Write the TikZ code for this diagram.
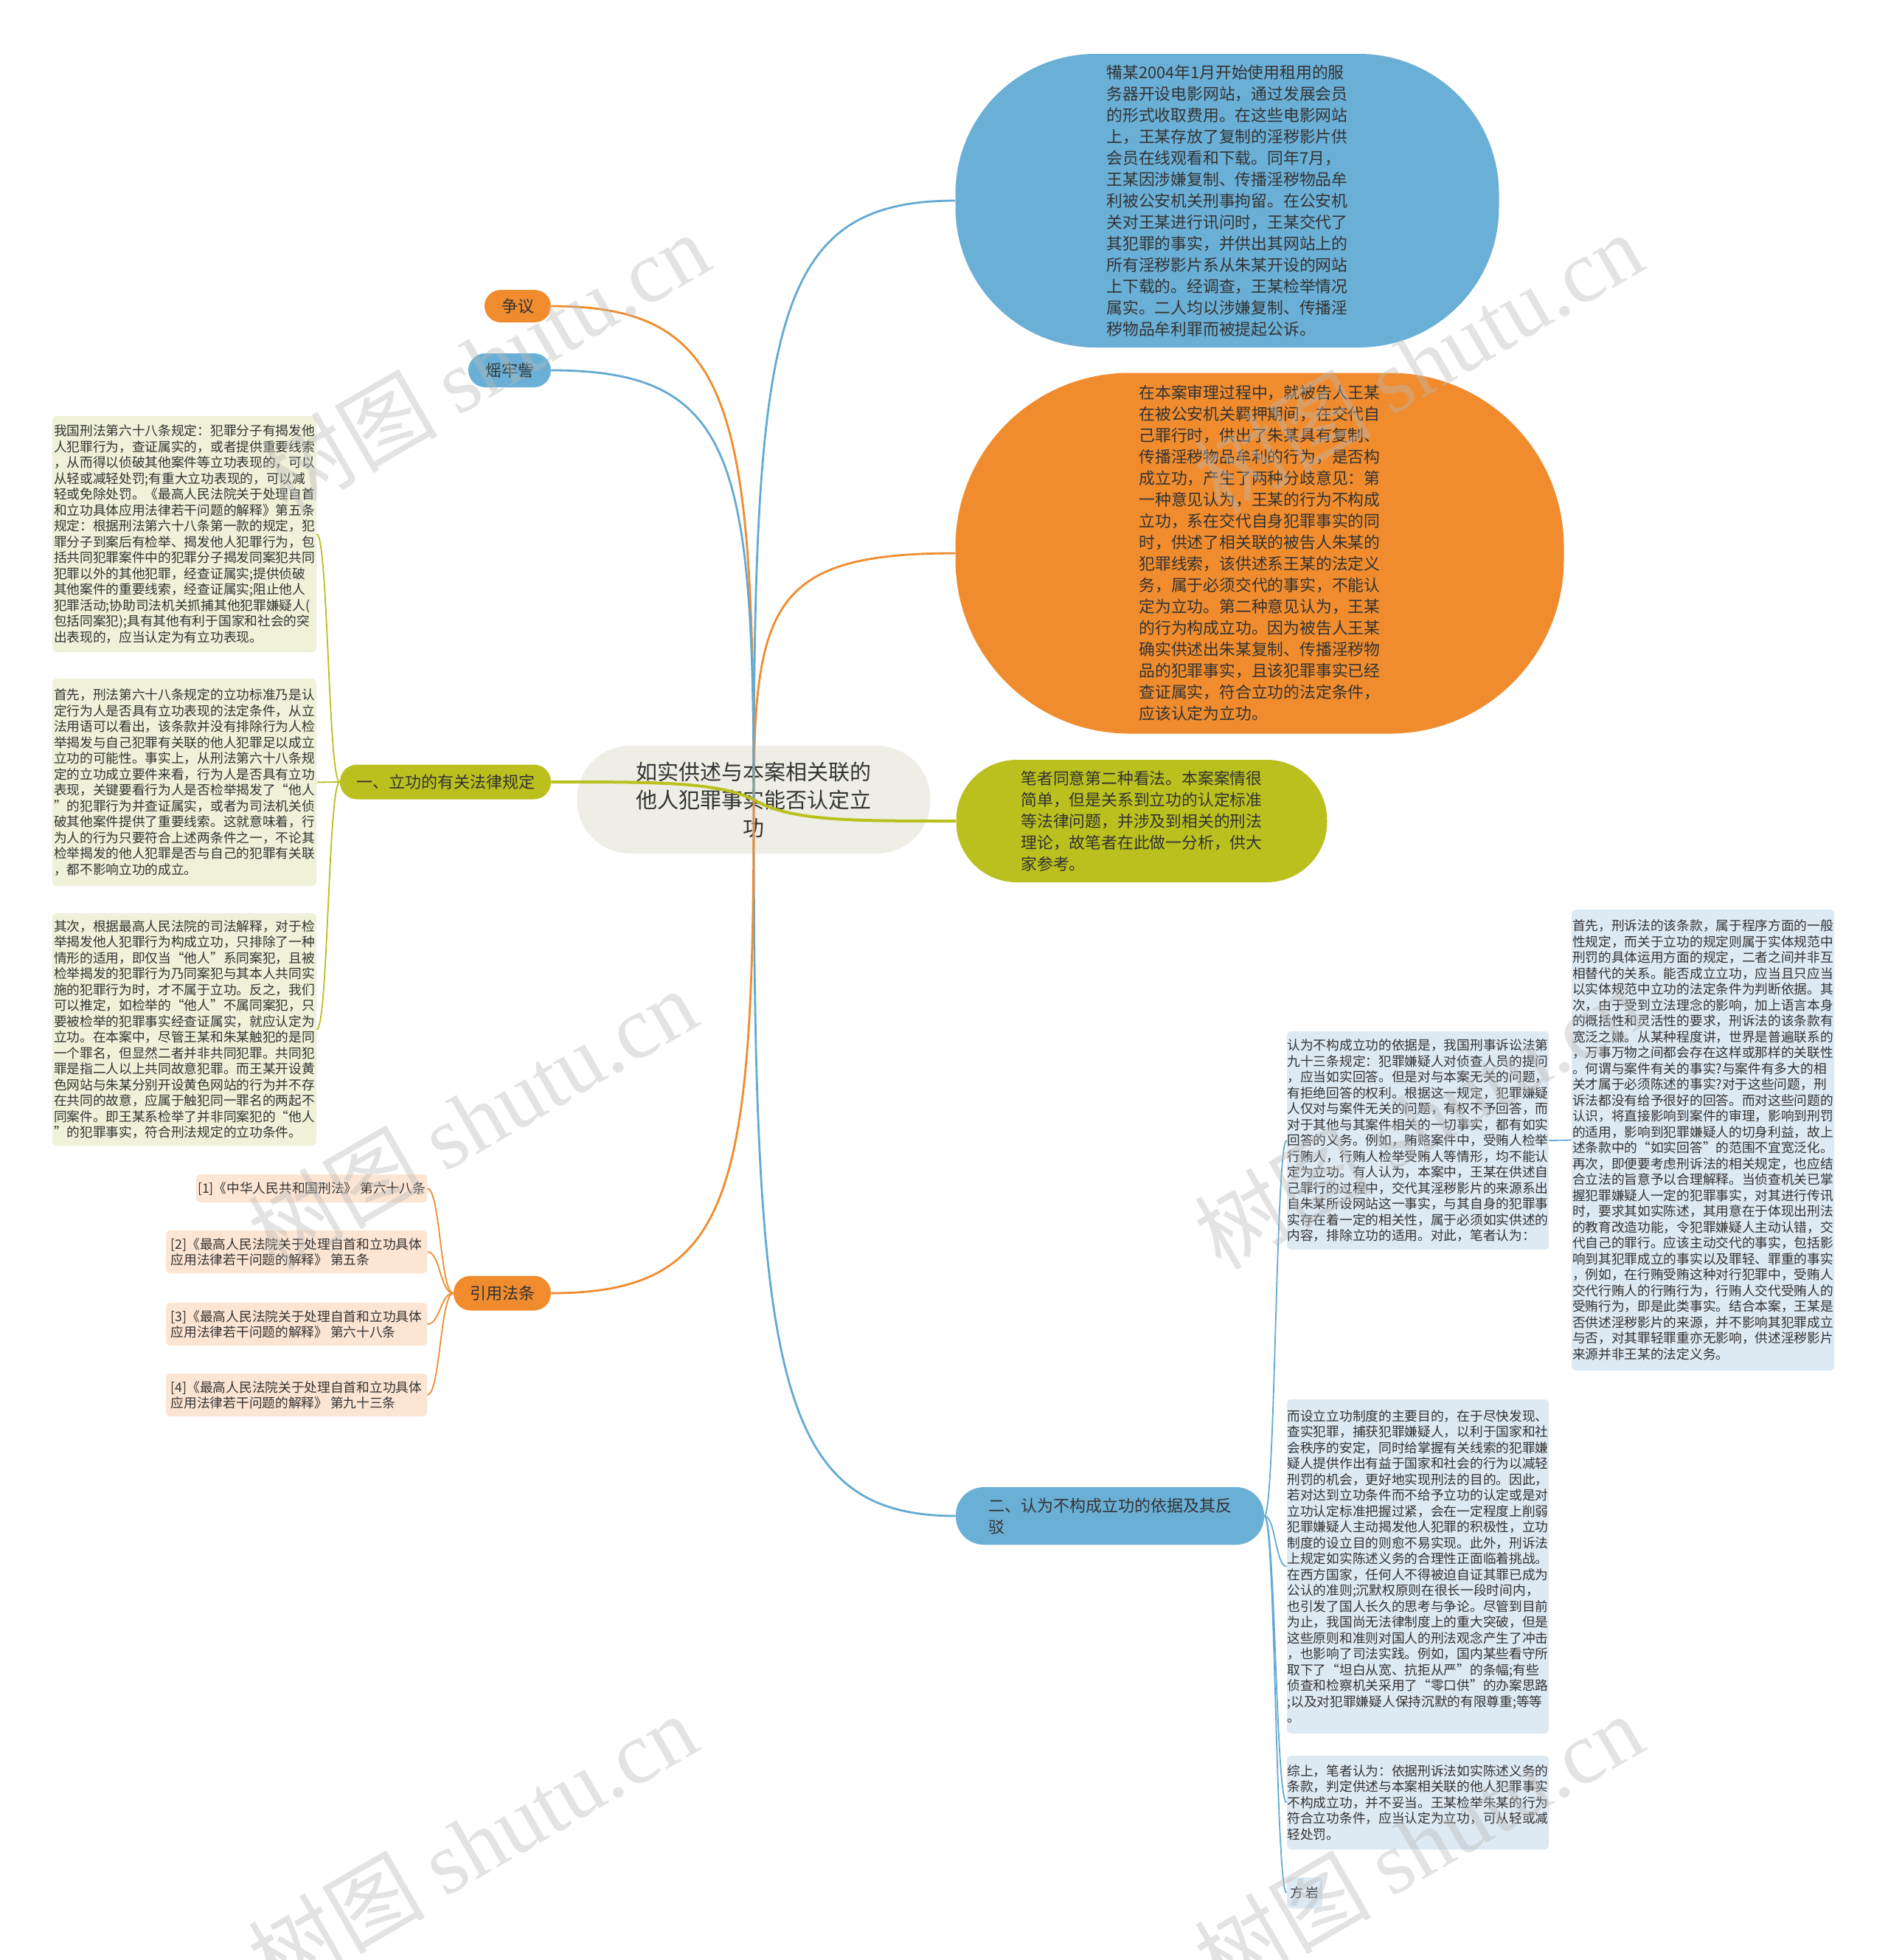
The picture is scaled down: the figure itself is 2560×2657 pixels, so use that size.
\documentclass[tikz,border=0pt]{standalone}
\usepackage{fontspec}
\setmainfont{Noto Sans CJK SC}
\newfontfamily\wmlat{Liberation Serif}
\usetikzlibrary{calc}
\definecolor{cblue}{HTML}{6AAFD6}
\definecolor{corange}{HTML}{F08C2E}
\definecolor{cgreen}{HTML}{BAC01E}
\definecolor{croot}{HTML}{EEEEE6}
\definecolor{lgreen}{HTML}{EFF1D9}
\definecolor{lblue}{HTML}{DDEAF4}
\definecolor{lpeach}{HTML}{FCE5D3}
\definecolor{ctext}{HTML}{333333}
\definecolor{lineblue}{HTML}{63AAD3}
\begin{document}
\begin{tikzpicture}[x=0.5pt,y=-0.5pt,
  bubble/.style={rectangle, inner sep=0pt, align=left, text=ctext, font=\fontsize{10.9pt}{14.5pt}\selectfont},
  leaf/.style={rectangle, rounded corners=3pt, inner sep=0pt, align=left, text=ctext, font=\fontsize{8.85pt}{10.75pt}\selectfont},
  pill/.style={rectangle, inner sep=0pt, align=left, text=ctext, font=\fontsize{11pt}{14.5pt}\selectfont},
  wm/.style={text=gray!55, text opacity=0.4, font=\fontsize{60pt}{60pt}\selectfont, rotate=30, inner sep=0pt},
  mm/.style={to path={.. controls ($(\tikztostart)!0.8!(\tikztostart|-\tikztotarget)$) and ($(\tikztotarget)!0.9!(\tikztotarget-|\tikztostart)$) .. (\tikztotarget)}},
  sc/.style={to path={.. controls ($(\tikztostart|-\tikztotarget)!0.18!(\tikztotarget)$) and ($(\tikztostart|-\tikztotarget)!0.47!(\tikztotarget)$) .. (\tikztotarget)}},
  br/.style={to path={.. controls ($(\tikztostart)!0.5!(\tikztostart-|\tikztotarget)$) and ($(\tikztotarget)!0.5!(\tikztotarget-|\tikztostart)$) .. (\tikztotarget)}},
  lb/.style={draw=lineblue, line width=1.4pt},
  lo/.style={draw=corange, line width=1.4pt},
  lg/.style={draw=cgreen, line width=2pt},
  tb/.style={draw=lineblue, line width=0.9pt},
  to/.style={draw=corange, line width=0.9pt},
  tg/.style={draw=cgreen, line width=0.9pt}
]
\useasboundingbox (0,0) rectangle (2560,2657);
\fill[white] (0,0) rectangle (2560,2657);

% root
\node[rectangle, fill=croot, rounded corners=36pt, minimum width=239.5pt, minimum height=73pt, inner sep=0pt, align=center, text=ctext, font=\fontsize{14.5pt}{19pt}\selectfont] (root) at (1022,1084) {如实供述与本案相关联的\\他人犯罪事实能否认定立\\功};

% right main bubbles
\node[bubble, fill=cblue, minimum width=368.5pt, minimum height=199pt, rounded corners=95pt] (case) at (1664,272) {犕某2004年1月开始使用租用的服\\务器开设电影网站，通过发展会员\\的形式收取费用。在这些电影网站\\上，王某存放了复制的淫秽影片供\\会员在线观看和下载。同年7月，\\王某因涉嫌复制、传播淫秽物品牟\\利被公安机关刑事拘留。在公安机\\关对王某进行讯问时，王某交代了\\其犯罪的事实，并供出其网站上的\\所有淫秽影片系从朱某开设的网站\\上下载的。经调查，王某检举情况\\属实。二人均以涉嫌复制、传播淫\\秽物品牟利罪而被提起公诉。};

\node[bubble, fill=corange, minimum width=412.5pt, minimum height=244.5pt, rounded corners=118pt] (disp) at (1708,750) {在本案审理过程中，就被告人王某\\在被公安机关羁押期间，在交代自\\己罪行时，供出了朱某具有复制、\\传播淫秽物品牟利的行为，是否构\\成立功，产生了两种分歧意见：第\\一种意见认为，王某的行为不构成\\立功，系在交代自身犯罪事实的同\\时，供述了相关联的被告人朱某的\\犯罪线索，该供述系王某的法定义\\务，属于必须交代的事实，不能认\\定为立功。第二种意见认为，王某\\的行为构成立功。因为被告人王某\\确实供述出朱某复制、传播淫秽物\\品的犯罪事实，且该犯罪事实已经\\查证属实，符合立功的法定条件，\\应该认定为立功。};

\node[bubble, fill=cgreen, minimum width=251.5pt, minimum height=83pt, rounded corners=41pt] (opin) at (1548,1113) {笔者同意第二种看法。本案案情很\\简单，但是关系到立功的认定标准\\等法律问题，并涉及到相关的刑法\\理论，故笔者在此做一分析，供大\\家参考。};

\node[pill, fill=cblue, minimum width=209pt, minimum height=39pt, rounded corners=19pt] (two) at (1505,2055) {二、认为不构成立功的依据及其反\\驳};

% left pills
\node[pill, fill=corange, minimum width=45pt, minimum height=22pt, rounded corners=11pt] (zy) at (702,415) {争议};
\node[pill, fill=cblue, minimum width=56pt, minimum height=23pt, rounded corners=11.5pt] (ln) at (691,502) {熎牢訾};
\node[pill, fill=cgreen, minimum width=143pt, minimum height=23.5pt, rounded corners=11.5pt] (one) at (604,1060) {一、立功的有关法律规定};
\node[pill, fill=corange, minimum width=66pt, minimum height=23.5pt, rounded corners=11.5pt] (yf) at (681,1753) {引用法条};

% left leaves
\node[leaf, fill=lgreen, minimum width=179pt, minimum height=160pt] (l1) at (250,724) {我国刑法第六十八条规定：犯罪分子有揭发他\\人犯罪行为，查证属实的，或者提供重要线索\\，从而得以侦破其他案件等立功表现的，可以\\从轻或减轻处罚;有重大立功表现的，可以减\\轻或免除处罚。《最高人民法院关于处理自首\\和立功具体应用法律若干问题的解释》第五条\\规定：根据刑法第六十八条第一款的规定，犯\\罪分子到案后有检举、揭发他人犯罪行为，包\\括共同犯罪案件中的犯罪分子揭发同案犯共同\\犯罪以外的其他犯罪，经查证属实;提供侦破\\其他案件的重要线索，经查证属实;阻止他人\\犯罪活动;协助司法机关抓捕其他犯罪嫌疑人(\\包括同案犯);具有其他有利于国家和社会的突\\出表现的，应当认定为有立功表现。};

\node[leaf, fill=lgreen, minimum width=179pt, minimum height=140.5pt] (l2) at (250,1060.5) {首先，刑法第六十八条规定的立功标准乃是认\\定行为人是否具有立功表现的法定条件，从立\\法用语可以看出，该条款并没有排除行为人检\\举揭发与自己犯罪有关联的他人犯罪足以成立\\立功的可能性。事实上，从刑法第六十八条规\\定的立功成立要件来看，行为人是否具有立功\\表现，关键要看行为人是否检举揭发了“他人\\”的犯罪行为并查证属实，或者为司法机关侦\\破其他案件提供了重要线索。这就意味着，行\\为人的行为只要符合上述两条件之一，不论其\\检举揭发的他人犯罪是否与自己的犯罪有关联\\，都不影响立功的成立。};

\node[leaf, fill=lgreen, minimum width=179pt, minimum height=157.5pt] (l3) at (250,1395.5) {其次，根据最高人民法院的司法解释，对于检\\举揭发他人犯罪行为构成立功，只排除了一种\\情形的适用，即仅当“他人”系同案犯，且被\\检举揭发的犯罪行为乃同案犯与其本人共同实\\施的犯罪行为时，才不属于立功。反之，我们\\可以推定，如检举的“他人”不属同案犯，只\\要被检举的犯罪事实经查证属实，就应认定为\\立功。在本案中，尽管王某和朱某触犯的是同\\一个罪名，但显然二者并非共同犯罪。共同犯\\罪是指二人以上共同故意犯罪。而王某开设黄\\色网站与朱某分别开设黄色网站的行为并不存\\在共同的故意，应属于触犯同一罪名的两起不\\同案件。即王某系检举了并非同案犯的“他人\\”的犯罪事实，符合刑法规定的立功条件。};

% references
\node[leaf, fill=lpeach, minimum width=156.5pt, minimum height=19pt] (f1) at (422.5,1611) {[1]《中华人民共和国刑法》 第六十八条};
\node[leaf, fill=lpeach, minimum width=177pt, minimum height=29pt] (f2) at (402,1697) {[2]《最高人民法院关于处理自首和立功具体\\应用法律若干问题的解释》 第五条};
\node[leaf, fill=lpeach, minimum width=177pt, minimum height=29pt] (f3) at (402,1795) {[3]《最高人民法院关于处理自首和立功具体\\应用法律若干问题的解释》 第六十八条};
\node[leaf, fill=lpeach, minimum width=177pt, minimum height=29pt] (f4) at (402,1891) {[4]《最高人民法院关于处理自首和立功具体\\应用法律若干问题的解释》 第九十三条};

% right leaves
\node[leaf, fill=lblue, minimum width=177.5pt, minimum height=148pt] (r1) at (1922.5,1546) {认为不构成立功的依据是，我国刑事诉讼法第\\九十三条规定：犯罪嫌疑人对侦查人员的提问\\，应当如实回答。但是对与本案无关的问题，\\有拒绝回答的权利。根据这一规定，犯罪嫌疑\\人仅对与案件无关的问题，有权不予回答，而\\对于其他与其案件相关的一切事实，都有如实\\回答的义务。例如，贿赂案件中，受贿人检举\\行贿人，行贿人检举受贿人等情形，均不能认\\定为立功。有人认为，本案中，王某在供述自\\己罪行的过程中，交代其淫秽影片的来源系出\\自朱某所设网站这一事实，与其自身的犯罪事\\实存在着一定的相关性，属于必须如实供述的\\内容，排除立功的适用。对此，笔者认为：};

\node[leaf, fill=lblue, minimum width=178pt, minimum height=312.5pt] (r2) at (2309,1545.5) {首先，刑诉法的该条款，属于程序方面的一般\\性规定，而关于立功的规定则属于实体规范中\\刑罚的具体运用方面的规定，二者之间并非互\\相替代的关系。能否成立立功，应当且只应当\\以实体规范中立功的法定条件为判断依据。其\\次，由于受到立法理念的影响，加上语言本身\\的概括性和灵活性的要求，刑诉法的该条款有\\宽泛之嫌。从某种程度讲，世界是普遍联系的\\，万事万物之间都会存在这样或那样的关联性\\。何谓与案件有关的事实?与案件有多大的相\\关才属于必须陈述的事实?对于这些问题，刑\\诉法都没有给予很好的回答。而对这些问题的\\认识，将直接影响到案件的审理，影响到刑罚\\的适用，影响到犯罪嫌疑人的切身利益，故上\\述条款中的“如实回答”的范围不宜宽泛化。\\再次，即便要考虑刑诉法的相关规定，也应结\\合立法的旨意予以合理解释。当侦查机关已掌\\握犯罪嫌疑人一定的犯罪事实，对其进行传讯\\时，要求其如实陈述，其用意在于体现出刑法\\的教育改造功能，令犯罪嫌疑人主动认错，交\\代自己的罪行。应该主动交代的事实，包括影\\响到其犯罪成立的事实以及罪轻、罪重的事实\\，例如，在行贿受贿这种对行犯罪中，受贿人\\交代行贿人的行贿行为，行贿人交代受贿人的\\受贿行为，即是此类事实。结合本案，王某是\\否供述淫秽影片的来源，并不影响其犯罪成立\\与否，对其罪轻罪重亦无影响，供述淫秽影片\\来源并非王某的法定义务。};

\node[leaf, fill=lblue, minimum width=177.5pt, minimum height=226.5pt] (r3) at (1922.5,2123.5) {而设立立功制度的主要目的，在于尽快发现、\\查实犯罪，捕获犯罪嫌疑人，以利于国家和社\\会秩序的安定，同时给掌握有关线索的犯罪嫌\\疑人提供作出有益于国家和社会的行为以减轻\\刑罚的机会，更好地实现刑法的目的。因此，\\若对达到立功条件而不给予立功的认定或是对\\立功认定标准把握过紧，会在一定程度上削弱\\犯罪嫌疑人主动揭发他人犯罪的积极性，立功\\制度的设立目的则愈不易实现。此外，刑诉法\\上规定如实陈述义务的合理性正面临着挑战。\\在西方国家，任何人不得被迫自证其罪已成为\\公认的准则;沉默权原则在很长一段时间内，\\也引发了国人长久的思考与争论。尽管到目前\\为止，我国尚无法律制度上的重大突破，但是\\这些原则和准则对国人的刑法观念产生了冲击\\，也影响了司法实践。例如，国内某些看守所\\取下了“坦白从宽、抗拒从严”的条幅;有些\\侦查和检察机关采用了“零口供”的办案思路\\;以及对犯罪嫌疑人保持沉默的有限尊重;等等\\。};

\node[leaf, fill=lblue, minimum width=177.5pt, minimum height=63.5pt] (r4) at (1922.5,2443.5) {综上，笔者认为：依据刑诉法如实陈述义务的\\条款，判定供述与本案相关联的他人犯罪事实\\不构成立功，并不妥当。王某检举朱某的行为\\符合立功条件，应当认定为立功，可从轻或减\\轻处罚。};

\node[leaf, fill=lblue, minimum width=24pt, minimum height=21pt] (r5) at (1769,2566) {方 岩};

% main connectors
\draw[lb] (root.center) to[mm] (case.west);
\draw[lo] (root.center) to[mm] (disp.west);
\draw[lg] (root.center) to[sc] (opin.west);
\draw[lb] (root.center) to[mm] (two.west);
\draw[lo] (root.center) to[mm] (zy.east);
\draw[lb] (root.center) to[mm] (ln.east);
\draw[lg] (root.center) to[sc] (one.east);
\draw[lo] (root.center) to[mm] (yf.east);

% branch connectors
\draw[tg] (one.west) to[br] (l1.east);
\draw[tg] (one.west) to[br] (l2.east);
\draw[tg] (one.west) to[br] (l3.east);
\draw[to] (yf.west) to[br] (f1.east);
\draw[to] (yf.west) to[br] (f2.east);
\draw[to] (yf.west) to[br] (f3.east);
\draw[to] (yf.west) to[br] (f4.east);
\draw[tb] (two.east) to[br] (r1.west);
\draw[tb] (two.east) to[br] (r3.west);
\draw[tb] (two.east) to[br] (r4.west);
\draw[tb] (two.east) to[br] (r5.west);
\draw[tb] (r1.east) -- (r2.west);

% watermarks
\node[wm] (wm1) at (657,491) {树图 {\wmlat shutu.cn}};
\node[wm] (wm2) at (640,1516) {树图 {\wmlat shutu.cn}};
\node[wm] (wm3) at (640,2499) {树图 {\wmlat shutu.cn}};
\node[wm] (wm4) at (1923,491) {树图 {\wmlat shutu.cn}};
\node[wm] (wm5) at (1923,1516) {树图 {\wmlat shutu.cn}};
\node[wm] (wm6) at (1923,2499) {树图 {\wmlat shutu.cn}};
\end{tikzpicture}
\end{document}
